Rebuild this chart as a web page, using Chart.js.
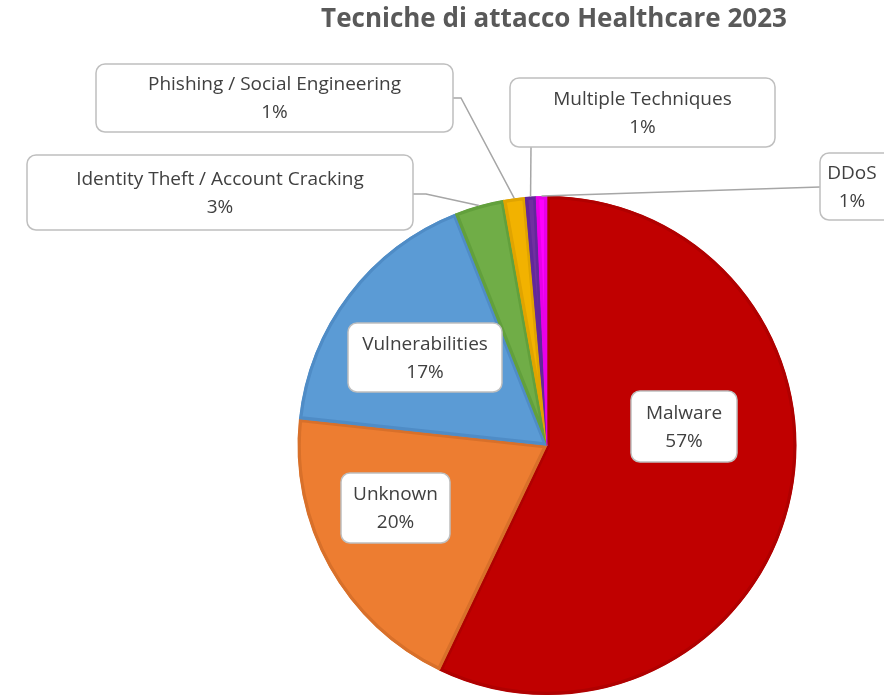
<!DOCTYPE html>
<html>
<head>
<meta charset="utf-8">
<script src="https://cdn.jsdelivr.net/npm/chart.js@4"></script>
<style>
  body { margin: 0; background: #ffffff; }
  canvas { display: block; }
</style>
</head>
<body>
<canvas id="attackChart" width="884" height="695"></canvas>
<script>
// data
const categories = [
  "Malware",
  "Unknown",
  "Vulnerabilities",
  "Identity Theft / Account Cracking",
  "Phishing / Social Engineering",
  "Multiple Techniques",
  "DDoS",
];
const shares = [57.1, 19.6, 17.3, 3.2, 1.4, 0.7, 0.7];
const sliceColors = ["#C00000", "#ED7D31", "#5B9BD5", "#70AD47", "#F2B200", "#7030A0", "#FF00FF"];
const sliceEdges = ["#B00000", "#D8702A", "#4F8CC6", "#62A03C", "#E0A400", "#62289A", "#E800E8"];

// callout boxes: [left, top, width, height], leader bends towards the box
const callouts = [
  { box: [631, 391, 106, 71] },
  { box: [341, 473, 109, 70] },
  { box: [348, 323, 154, 69] },
  { box: [27, 155, 386, 75], leader: [[413, 194], [426, 194]] },
  { box: [96, 64, 357, 68], leader: [[453, 98], [461, 98]] },
  { box: [510, 78, 265, 69], leader: [[531, 147]] },
  { box: [820, 153, 80, 67], leader: [[820, 187]] },
];

const FONT = "'Open Sans', Lato, sans-serif";

const calloutPlugin = {
  id: "callouts",
  afterDatasetsDraw(chart) {
    const ctx = chart.ctx;
    const arcs = chart.getDatasetMeta(0).data;
    const total = shares.reduce((a, b) => a + b, 0);
    ctx.save();

    // leader lines from the slice edge
    ctx.strokeStyle = "#A6A6A6";
    ctx.lineWidth = 1.5;
    arcs.forEach((arc, i) => {
      const c = callouts[i];
      if (!c.leader) return;
      const mid = (arc.startAngle + arc.endAngle) / 2;
      const r = arc.outerRadius;
      ctx.beginPath();
      ctx.moveTo(arc.x + Math.cos(mid) * r, arc.y + Math.sin(mid) * r);
      for (let k = c.leader.length - 1; k >= 0; k--) {
        ctx.lineTo(c.leader[k][0], c.leader[k][1]);
      }
      ctx.stroke();
    });

    // boxes and text
    arcs.forEach((arc, i) => {
      const [x, y, w, h] = callouts[i].box;
      ctx.beginPath();
      ctx.roundRect(x, y, w, h, 9);
      ctx.fillStyle = "#ffffff";
      ctx.fill();
      ctx.strokeStyle = "#BFBFBF";
      ctx.lineWidth = 1.5;
      ctx.stroke();

      ctx.fillStyle = "#404040";
      ctx.font = "19px " + FONT;
      ctx.textAlign = "center";
      ctx.textBaseline = "middle";
      const cx = i === 6 ? x + 32 : x + w / 2;
      const pct = Math.round((shares[i] / total) * 100) + "%";
      ctx.fillText(categories[i], cx, y + h / 2 - 13);
      ctx.fillText(pct, cx, y + h / 2 + 15);
    });

    // title
    ctx.fillStyle = "#595959";
    ctx.font = "bold 26px " + FONT;
    ctx.textAlign = "center";
    ctx.textBaseline = "middle";
    ctx.fillText("Tecniche di attacco Healthcare 2023", 554, 20);
    ctx.restore();
  },
};

new Chart(document.getElementById("attackChart"), {
  type: "pie",
  data: {
    labels: categories,
    datasets: [
      {
        data: shares,
        backgroundColor: sliceColors,
        borderColor: sliceEdges,
        borderWidth: 3,
        borderAlign: "inner",
      },
    ],
  },
  options: {
    responsive: false,
    animation: false,
    layout: { padding: { top: 196, left: 297, right: 87, bottom: 0 } },
    plugins: {
      legend: { display: false },
      tooltip: { enabled: false },
    },
  },
  plugins: [calloutPlugin],
});
</script>
</body>
</html>
